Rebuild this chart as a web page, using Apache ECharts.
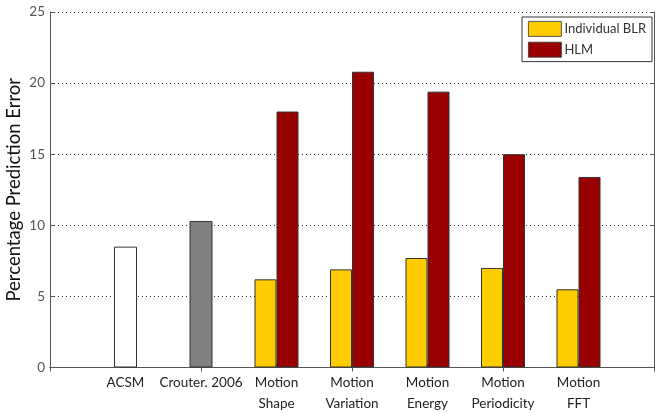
<!DOCTYPE html>
<html>
<head>
<meta charset="utf-8">
<script src="https://cdn.jsdelivr.net/npm/echarts@6/dist/echarts.min.js"></script>
<style>html,body{margin:0;padding:0;background:#fff}#c{width:662px;height:413px}</style>
</head>
<body>
<div id="c"></div>
<script>
// Category slots (0 and 8 are empty padding slots so positions run 0..8)
const categories = ['', 'ACSM', 'Crouter. 2006', 'Motion\nShape', 'Motion\nVariation', 'Motion\nEnergy', 'Motion\nPeriodicity', 'Motion\nFFT', ''];
const baselineNames = ['ACSM', 'Crouter. 2006'];
const baselineValues = [8.5, 10.3];
const motionNames = ['Motion\nShape', 'Motion\nVariation', 'Motion\nEnergy', 'Motion\nPeriodicity', 'Motion\nFFT'];
const blrValues = [6.2, 6.9, 7.7, 7.0, 5.5];
const hlmValues = [18.0, 20.8, 19.4, 15.0, 13.4];
const yTicks = [0, 5, 10, 15, 20, 25];

function place(names, vals) {
  return categories.map(c => { const i = names.indexOf(c); return i >= 0 ? vals[i] : null; });
}
const baseData = place(baselineNames, baselineValues);
const baseColors = ['#ffffff', '#808080'];

const chart = echarts.init(document.getElementById('c'), null, {renderer: 'canvas'});
const font = 'Lato, "Open Sans", sans-serif';
chart.setOption({
  animation: false,
  textStyle: {fontFamily: font},
  grid: {left: 50, right: 8, top: 12, bottom: 45.5, show: false, containLabel: false, outerBoundsMode: 'none'},
  legend: {
    data: ['Individual BLR', 'HLM'],
    orient: 'vertical', left: 522, top: 17,
    itemWidth: 33, itemHeight: 15, itemGap: 5,
    padding: [4, 6, 4, 6],
    borderColor: '#333', borderWidth: 1, backgroundColor: '#fff',
    icon: 'rect',
    itemStyle: {borderWidth: 0.8, borderColor: '#333'},
    textStyle: {fontSize: 13, color: '#333', fontFamily: font, padding: [0, 0, 0, -2]}
  },
  xAxis: [
    {type: 'category', data: categories, boundaryGap: false, position: 'bottom',
     axisLine: {lineStyle: {color: '#555'}},
     axisTick: {inside: true, length: 4, lineStyle: {color: '#555'}},
     axisLabel: {fontSize: 13.5, color: '#222', lineHeight: 21, margin: 5, interval: 0, fontFamily: font},
     splitLine: {show: false}},
    {type: 'category', data: categories, boundaryGap: false, position: 'top',
     axisLine: {lineStyle: {color: '#555'}},
     axisTick: {inside: true, length: 4, lineStyle: {color: '#555'}},
     axisLabel: {show: false}, splitLine: {show: false}},
    {type: 'category', data: categories, boundaryGap: false, show: false}
  ],
  yAxis: [
    {type: 'value', min: yTicks[0], max: yTicks[yTicks.length - 1], interval: 5, position: 'left',
     name: 'Percentage Prediction Error', nameLocation: 'middle', nameGap: 26, nameMoveOverlap: false,
     nameTextStyle: {fontSize: 18.5, color: '#111', fontFamily: font},
     axisLine: {show: true, lineStyle: {color: '#555'}},
     axisTick: {show: true, inside: true, length: 4, lineStyle: {color: '#555'}},
     axisLabel: {fontSize: 13.5, color: '#555', margin: 5, fontFamily: font},
     splitLine: {show: true, lineStyle: {color: '#333', type: [1, 3], width: 1}}},
    {type: 'value', min: yTicks[0], max: yTicks[yTicks.length - 1], interval: 5, position: 'right',
     axisLine: {show: true, lineStyle: {color: '#555'}},
     axisTick: {show: true, inside: true, length: 4, lineStyle: {color: '#555'}},
     axisLabel: {show: false}, splitLine: {show: false}}
  ],
  series: [
    {name: 'Baseline', type: 'bar', xAxisIndex: 2, yAxisIndex: 0, barWidth: 23,
     data: baseData.map((v, i) => v == null ? null : {value: v, itemStyle: {color: baseColors[baselineValues.indexOf(v)]}}),
     itemStyle: {borderColor: '#333', borderWidth: 1}, z: 3},
    {name: 'Individual BLR', type: 'bar', xAxisIndex: 0, yAxisIndex: 0, barWidth: 22, barGap: '0%',
     data: place(motionNames, blrValues),
     itemStyle: {color: '#FFCC00', borderColor: '#333', borderWidth: 1}, z: 3},
    {name: 'HLM', type: 'bar', xAxisIndex: 0, yAxisIndex: 0, barWidth: 22, barGap: '0%',
     data: place(motionNames, hlmValues),
     itemStyle: {color: '#990000', borderColor: '#333', borderWidth: 1}, z: 3}
  ]
});
</script>
</body>
</html>
